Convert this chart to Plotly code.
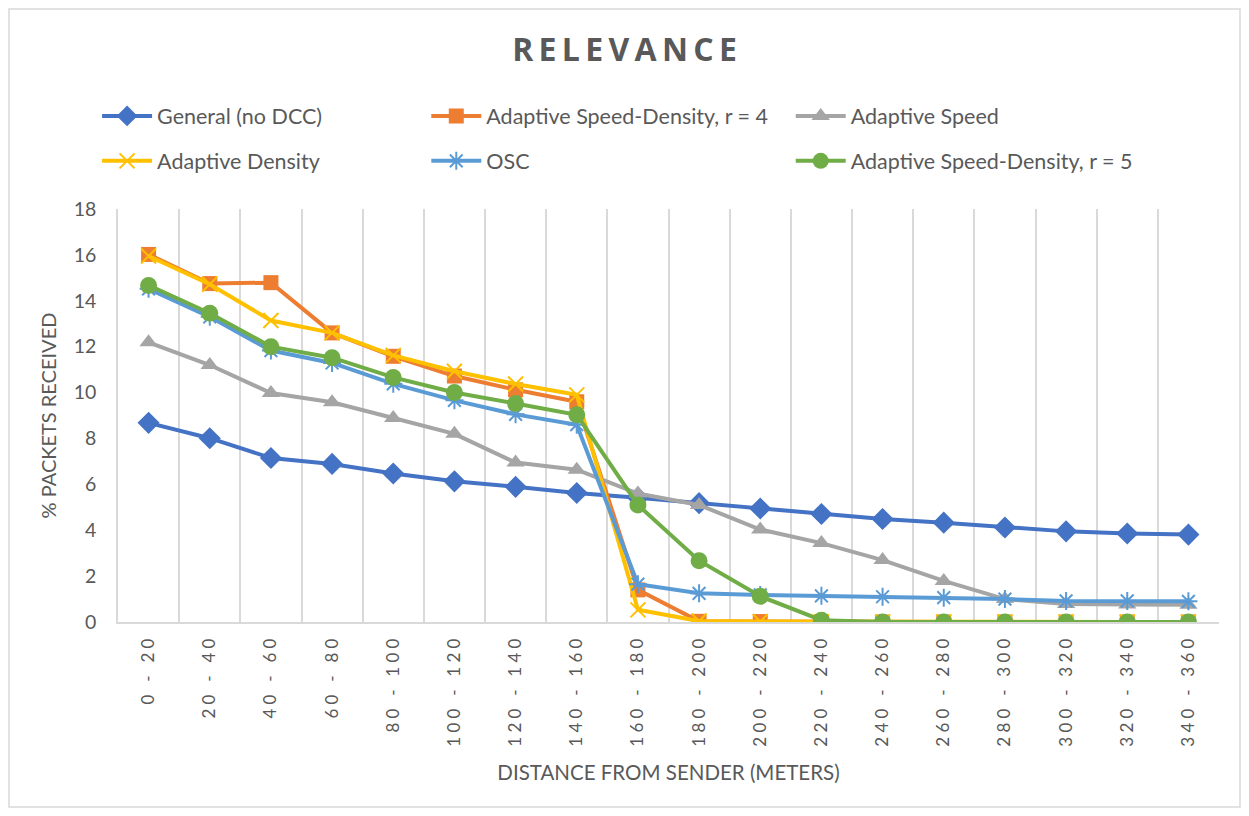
import plotly.graph_objects as go

categories = ["0 - 20", "20 - 40", "40 - 60", "60 - 80", "80 - 100", "100 - 120", "120 - 140",
              "140 - 160", "160 - 180", "180 - 200", "200 - 220", "220 - 240", "240 - 260",
              "260 - 280", "280 - 300", "300 - 320", "320 - 340", "340 - 360"]

general = [8.68, 8.01, 7.15, 6.89, 6.47, 6.13, 5.89, 5.62, 5.42, 5.18, 4.95, 4.71, 4.49, 4.33, 4.12, 3.95, 3.86, 3.81]
asd_r4 = [16.02, 14.75, 14.79, 12.6, 11.58, 10.72, 10.12, 9.6, 1.4, 0.03, 0.02, 0.0, 0.0, 0.0, 0.0, 0.0, 0.0, 0.0]
adaptive_speed = [12.19, 11.2, 9.98, 9.58, 8.89, 8.2, 6.95, 6.64, 5.6, 5.1, 4.03, 3.44, 2.7, 1.79, 1.0, 0.78, 0.76, 0.75]
adaptive_density = [15.95, 14.72, 13.14, 12.6, 11.62, 10.93, 10.37, 9.9, 0.53, 0.04, 0.02, 0.01, 0.0, 0.0, 0.0, 0.0, 0.0, 0.0]
osc = [14.52, 13.3, 11.83, 11.29, 10.38, 9.66, 9.05, 8.6, 1.65, 1.25, 1.18, 1.14, 1.1, 1.06, 1.0, 0.92, 0.92, 0.9]
asd_r5 = [14.67, 13.46, 12.0, 11.52, 10.66, 10.0, 9.52, 9.03, 5.1, 2.67, 1.12, 0.08, 0.0, 0.0, 0.0, 0.0, 0.0, 0.0]

names = ["General (no DCC)", "Adaptive Speed-Density, r = 4", "Adaptive Speed",
         "Adaptive Density", "OSC", "Adaptive Speed-Density, r = 5"]

FONT = "Lato"
TXT = "#595959"


def spaced(s, gap="\u2009"):
    return gap.join(s)


series = [
    (names[0], general, "#4472C4", dict(symbol="diamond", size=17), "legend"),
    (names[1], asd_r4, "#ED7D31", dict(symbol="square", size=15), "legend2"),
    (names[2], adaptive_speed, "#A5A5A5", dict(symbol="triangle-up", size=16), "legend3"),
    (names[3], adaptive_density, "#FFC000", dict(symbol="x-thin-open", size=15, line=dict(width=2)), "legend"),
    (names[4], osc, "#5B9BD5", dict(symbol="asterisk-open", size=15, line=dict(width=2)), "legend2"),
    (names[5], asd_r5, "#70AD47", dict(symbol="circle", size=17), "legend3"),
]

fig = go.Figure()
for i, (name, vals, color, mk, lg) in enumerate(series):
    m = dict(mk)
    m["color"] = color
    if "line" in m:
        m["line"] = dict(width=m["line"]["width"], color=color)
    fig.add_trace(go.Scatter(
        x=categories, y=vals, name=name, mode="lines+markers",
        line=dict(color=color, width=4), marker=m, legend=lg,
        legendrank=i, legendgroup=name,
    ))

leg_common = dict(
    font=dict(family=FONT, size=21.5, color=TXT),
    bgcolor="rgba(0,0,0,0)", yanchor="top", y=1.275, xanchor="left",
    tracegroupgap=14, itemwidth=50,
)
fig.update_layout(
    width=1233, height=800,
    margin=dict(l=110, r=22, t=201, b=186),
    paper_bgcolor="white", plot_bgcolor="white",
    title=dict(text="<b>" + spaced("RELEVANCE") + "</b>", x=0.5, xanchor="center", y=0.9475, yanchor="middle",
               font=dict(family="Open Sans", size=32, color=TXT)),
    legend=dict(x=-0.019, **leg_common),
    legend2=dict(x=0.28, **leg_common),
    legend3=dict(x=0.611, **leg_common),
    xaxis=dict(
        type="category", range=[-0.5, 17.5], tickson="boundaries",
        tickvals=categories, ticktext=[spaced(c, "\u2005") for c in categories],
        showgrid=True, gridcolor="#D9D9D9", gridwidth=1.5,
        showline=True, linecolor="#D9D9D9", linewidth=1.5,
        ticks="", tickangle=-90, ticklabelstandoff=8,
        tickfont=dict(family=FONT, size=17, color=TXT),
        title=dict(text="DISTANCE FROM SENDER (METERS)", standoff=20,
                   font=dict(family=FONT, size=20.5, color=TXT)),
    ),
    yaxis=dict(
        range=[0, 18], dtick=2, showgrid=False, zeroline=False,
        showline=True, linecolor="#D9D9D9", linewidth=1.5,
        ticks="", ticklen=0, ticklabelstandoff=16,
        tickfont=dict(family=FONT, size=19.5, color=TXT),
        title=dict(text="% PACKETS RECEIVED", standoff=12,
                   font=dict(family=FONT, size=20, color=TXT)),
    ),
)
fig.add_shape(type="rect", xref="paper", yref="paper",
              x0=-109 / 1101, x1=1 + 21 / 1101, y0=-185 / 413, y1=1 + 200 / 413,
              line=dict(color="#D9D9D9", width=1.5), fillcolor="rgba(0,0,0,0)", layer="below")

fig.write_html("out.html")
